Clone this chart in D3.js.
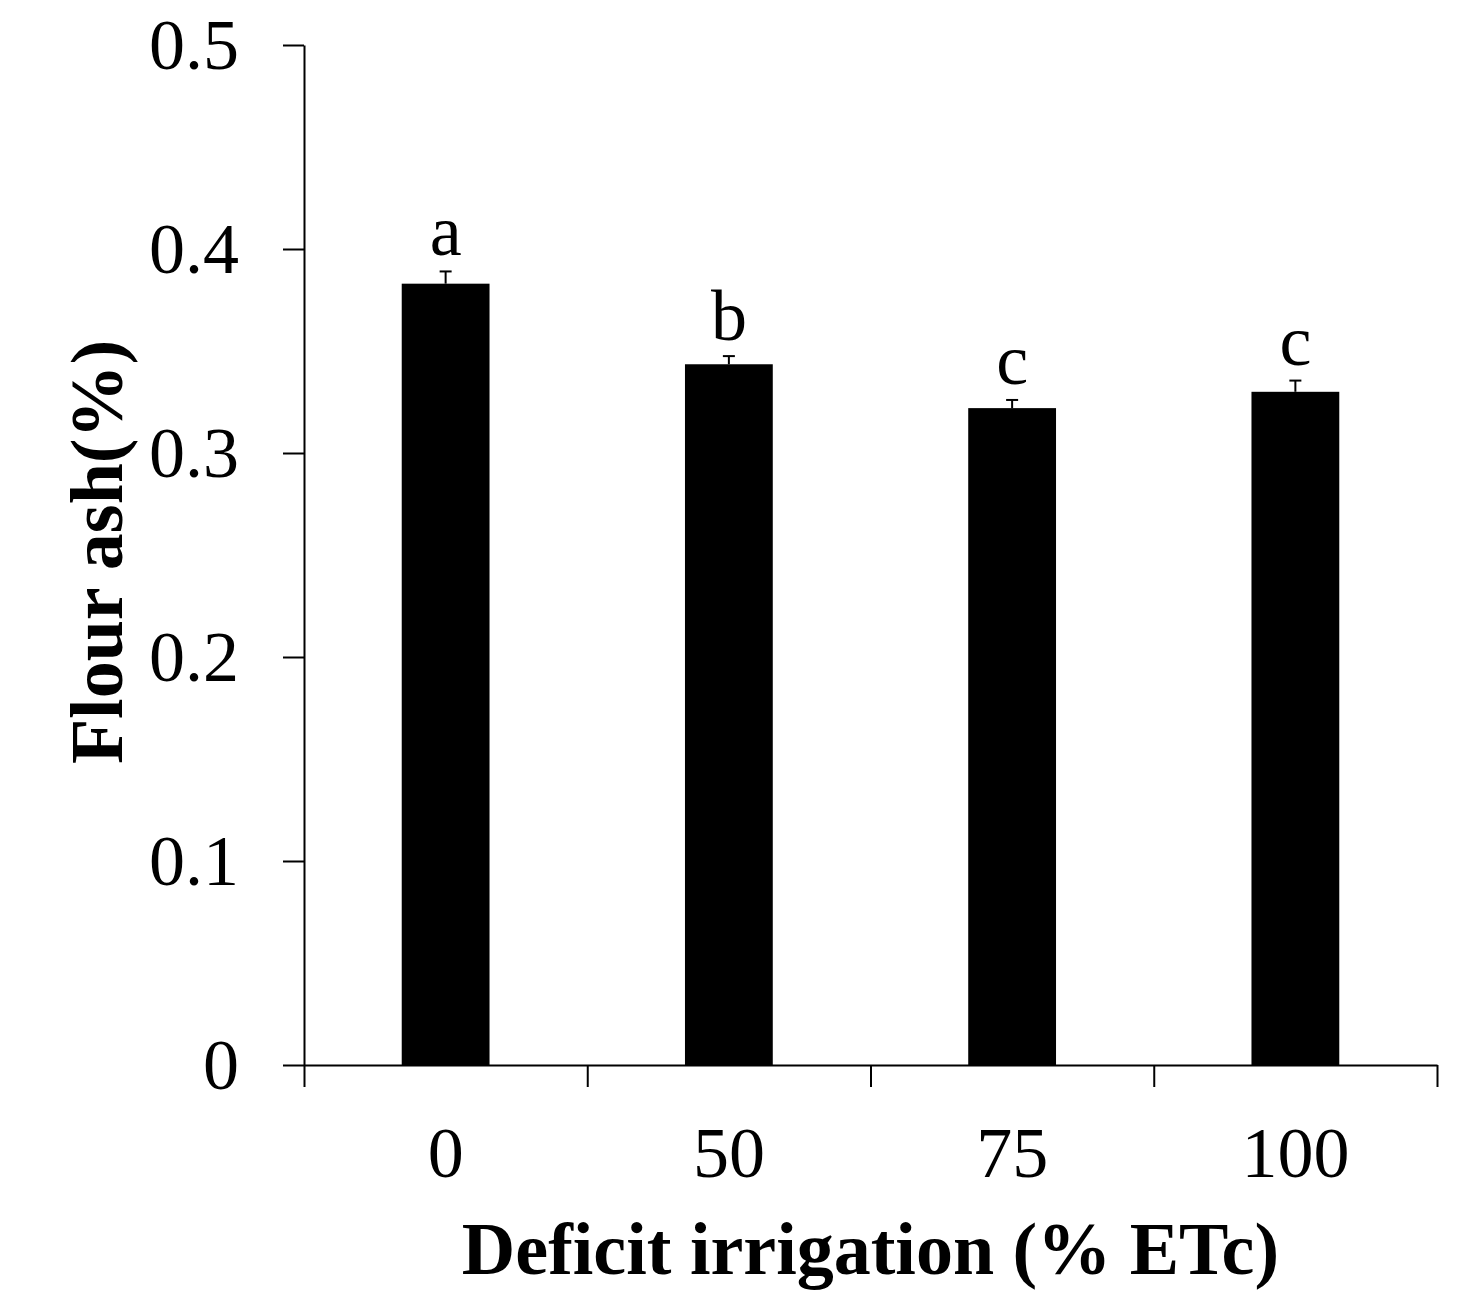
<!DOCTYPE html>
<html>
<head>
<meta charset="utf-8">
<script src="https://cdn.jsdelivr.net/npm/d3@7"></script>
<style>
  body { margin: 0; background: #fff; }
  text { font-family: "Liberation Serif", "Times New Roman", serif; fill: #000; }
</style>
</head>
<body>
<svg id="chart" width="1462" height="1290"></svg>
<script>
// Chart values
var categories = ["0", "50", "75", "100"];
var ashValues = [0.383, 0.3435, 0.322, 0.330];
var ashErrors = [0.006, 0.004, 0.004, 0.0055];
var groupLetters = ["a", "b", "c", "c"];
var yTicks = [0, 0.1, 0.2, 0.3, 0.4, 0.5];
var yTickLabels = ["0", "0.1", "0.2", "0.3", "0.4", "0.5"];

// Plot area
var plotLeft = 304, plotRight = 1437, plotTop = 45, plotBottom = 1065;

var svg = d3.select("#chart");

var x = d3.scaleBand()
  .domain(categories)
  .range([plotLeft, plotRight])
  .paddingInner(0.69)
  .paddingOuter(0.345);

var xEdges = d3.scaleLinear().domain([0, categories.length]).range([plotLeft, plotRight]);

var y = d3.scaleLinear().domain([0, 0.5]).range([plotBottom, plotTop]);

// Bars
svg.append("g").selectAll("rect")
    .data(ashValues)
    .enter()
  .append("rect")
    .attr("x", function(d, i) { return x(categories[i]); })
    .attr("y", function(d) { return y(d); })
    .attr("width", x.bandwidth())
    .attr("height", function(d) { return y(0) - y(d); })
    .style("fill", "#000");

// Error bars (upper half only, with cap)
var err = svg.append("g")
    .style("stroke", "#000")
    .style("stroke-width", 2);
ashValues.forEach(function(d, i) {
  var cx = x(categories[i]) + x.bandwidth() / 2;
  err.append("line")
    .attr("x1", cx).attr("x2", cx)
    .attr("y1", y(d)).attr("y2", y(d + ashErrors[i]));
  err.append("line")
    .attr("x1", cx - 6).attr("x2", cx + 6)
    .attr("y1", y(d + ashErrors[i])).attr("y2", y(d + ashErrors[i]));
});

// Significance letters
svg.append("g").selectAll("text")
    .data(groupLetters)
    .enter()
  .append("text")
    .attr("x", function(d, i) { return x(categories[i]) + x.bandwidth() / 2; })
    .attr("y", function(d, i) { return y(ashValues[i] + ashErrors[i]) - 16; })
    .attr("text-anchor", "middle")
    .style("font-size", "72px")
    .text(function(d) { return d; });

// Y axis
var yAxis = svg.append("g")
    .attr("transform", "translate(" + plotLeft + ",0)")
    .call(d3.axisLeft(y)
      .tickValues(yTicks)
      .tickFormat(function(d, i) { return yTickLabels[i]; })
      .tickSize(21)
      .tickSizeOuter(0)
      .tickPadding(44));
yAxis.selectAll("path, line").style("stroke", "#000").style("stroke-width", 2);
yAxis.selectAll("text")
    .style("font-family", "'Liberation Serif', 'Times New Roman', serif")
    .style("font-size", "72px");

// X axis (ticks at the group boundaries)
var xAxis = svg.append("g")
    .attr("transform", "translate(0," + plotBottom + ")")
    .call(d3.axisBottom(xEdges)
      .tickValues(d3.range(categories.length + 1))
      .tickFormat("")
      .tickSize(22)
      .tickSizeOuter(0));
xAxis.selectAll("path, line").style("stroke", "#000").style("stroke-width", 2);

// X category labels
svg.append("g").selectAll("text")
    .data(categories)
    .enter()
  .append("text")
    .attr("x", function(d) { return x(d) + x.bandwidth() / 2; })
    .attr("y", 1177)
    .attr("text-anchor", "middle")
    .style("font-size", "72px")
    .text(function(d) { return d; });

// Axis titles
svg.append("text")
    .attr("x", (plotLeft + plotRight) / 2)
    .attr("y", 1274)
    .attr("text-anchor", "middle")
    .style("font-size", "74px")
    .style("font-weight", "bold")
    .text("Deficit irrigation (% ETc)");

svg.append("text")
    .attr("transform", "translate(122,552) rotate(-90)")
    .attr("text-anchor", "middle")
    .style("font-size", "74px")
    .style("font-weight", "bold")
    .text("Flour ash(%)");
</script>
</body>
</html>
